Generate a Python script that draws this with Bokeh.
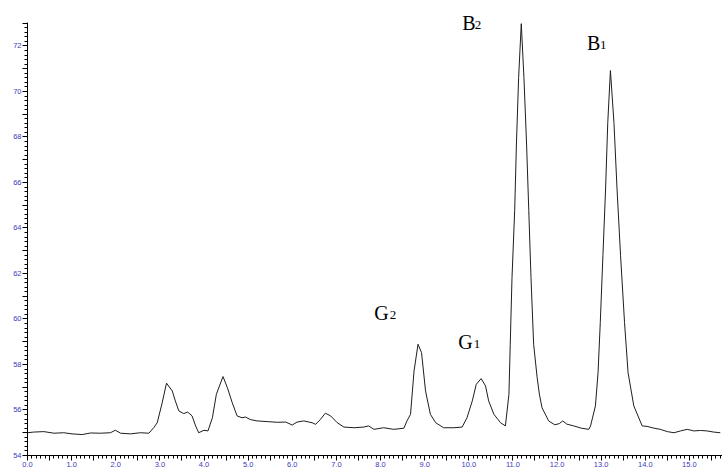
from bokeh.plotting import figure
from bokeh.models import Range1d, SingleIntervalTicker, NumeralTickFormatter, ColumnDataSource
from bokeh.core.properties import value
from bokeh.embed import file_html
from bokeh.resources import INLINE

# retention time (min) and detector signal
time_min = [0.00, 0.14, 0.37, 0.60, 0.82, 1.01, 1.24, 1.43, 1.65, 1.88, 1.99, 2.11, 2.33, 2.56, 2.75,
            2.86, 2.94, 3.05, 3.15, 3.28, 3.35, 3.43, 3.54, 3.63, 3.73, 3.81, 3.88, 4.00, 4.09, 4.19,
            4.28, 4.43, 4.53, 4.64, 4.75, 4.86, 4.94, 5.05, 5.20, 5.43, 5.66, 5.85, 6.00, 6.11, 6.26,
            6.45, 6.53, 6.64, 6.75, 6.87, 7.02, 7.17, 7.40, 7.62, 7.73, 7.85, 8.07, 8.30, 8.53, 8.60,
            8.68, 8.76, 8.85, 8.93, 9.02, 9.13, 9.25, 9.43, 9.66, 9.85, 9.96, 10.08, 10.17, 10.28, 10.38,
            10.45, 10.57, 10.72, 10.83, 10.91, 10.94, 10.98, 11.04, 11.08, 11.13, 11.19, 11.25, 11.31,
            11.36, 11.41, 11.47, 11.55, 11.60, 11.66, 11.81, 11.95, 12.05, 12.13, 12.22, 12.38, 12.55, 12.72,
            12.76, 12.87, 12.93, 12.98, 13.04, 13.10, 13.15, 13.21, 13.29, 13.36, 13.44, 13.53, 13.61,
            13.74, 13.93, 14.04, 14.20, 14.34, 14.50, 14.65, 14.80, 14.95, 15.10, 15.25, 15.40, 15.55, 15.70]
signal = [55.00, 55.03, 55.05, 54.98, 55.00, 54.95, 54.92, 54.99, 54.98, 55.00, 55.11, 54.98, 54.95, 55.00, 54.98,
          55.22, 55.44, 56.30, 57.18, 56.84, 56.40, 55.96, 55.84, 55.91, 55.74, 55.30, 55.00, 55.11, 55.08, 55.66,
          56.69, 57.47, 56.98, 56.32, 55.74, 55.66, 55.69, 55.58, 55.52, 55.49, 55.46, 55.47, 55.34, 55.47, 55.52,
          55.44, 55.37, 55.59, 55.86, 55.74, 55.44, 55.25, 55.22, 55.25, 55.30, 55.15, 55.22, 55.15, 55.20, 55.52,
          55.81, 57.72, 58.89, 58.52, 56.84, 55.81, 55.44, 55.22, 55.22, 55.25, 55.66, 56.40, 57.13, 57.38, 57.06,
          56.40, 55.81, 55.44, 55.30, 56.69, 58.89, 61.82, 64.76, 67.69, 70.62, 72.98, 70.62, 67.69,
          64.76, 61.82, 58.89, 57.42, 56.70, 56.10, 55.52, 55.35, 55.40, 55.52, 55.38, 55.30, 55.20, 55.15,
          55.30, 56.18, 57.64, 59.84, 62.78, 65.71, 68.64, 70.92, 68.64, 65.71, 62.78, 59.84, 57.64,
          56.18, 55.30, 55.28, 55.20, 55.15, 55.05, 55.00, 55.08, 55.15, 55.08, 55.10, 55.08, 55.03, 55.00]

# peak labels (letter + subscript digit) and their anchors
peak_letters = ["B", "B", "G", "G"]
peak_digits = ["2", "1", "2", "1"]
label_x = [9.85, 12.68, 7.86, 9.76]
label_y = [72.71, 71.83, 59.95, 58.67]
digit_dx = [12.5, 13.0, 15.5, 15.5]

x_ticks_major = 0.5
y_ticks_major = 1
y_axis_top = 73.03

p = figure(width=722, height=471, x_range=Range1d(0, 15.75), y_range=Range1d(54, 73.56),
           output_backend="svg", toolbar_location=None,
           min_border_left=27, min_border_right=0, min_border_top=10, min_border_bottom=16)
p.outline_line_color = None
p.xgrid.visible = False
p.ygrid.visible = False
p.background_fill_color = "white"
p.border_fill_color = "white"

p.line(time_min, signal, line_color="#1e1e1e", line_width=1)

src_l = ColumnDataSource(dict(x=label_x, y=label_y, t=peak_letters))
src_d = ColumnDataSource(dict(x=label_x, y=label_y, t=peak_digits, dx=digit_dx))
p.text(x="x", y="y", text="t", source=src_l, y_offset=-7, text_font=value("Liberation Serif"),
       text_font_size="20px", text_baseline="alphabetic", text_align="left", text_color="black")
p.text(x="x", y="y", text="t", source=src_d, x_offset="dx", y_offset=-5, text_font=value("Liberation Serif"),
       text_font_size="13px", text_baseline="alphabetic", text_align="left", text_color="black")

label_color = "#4038c0"
xa = p.xaxis[0]
xa.ticker = SingleIntervalTicker(interval=x_ticks_major, num_minor_ticks=5)
xa.formatter = NumeralTickFormatter(format="0.0")
xa.major_label_overrides = {k + 0.5: "" for k in range(16)}
ya = p.yaxis[0]
ya.ticker = SingleIntervalTicker(interval=y_ticks_major, num_minor_ticks=5)
ya.formatter = NumeralTickFormatter(format="0")
ya.major_label_overrides = {k: "" for k in range(55, 75, 2)}
ya.bounds = (54, y_axis_top)
for ax in (xa, ya):
    ax.axis_line_color = "black"
    ax.major_tick_line_color = "black"
    ax.minor_tick_line_color = "black"
    ax.major_tick_in = 0
    ax.major_tick_out = 5
    ax.minor_tick_in = 0
    ax.minor_tick_out = 3
    ax.major_label_text_color = label_color
    ax.major_label_text_font = "Liberation Sans"
    ax.major_label_text_font_size = "7.5px"
    ax.major_label_standoff = 1

open("out.html", "w").write(file_html(p, INLINE))
